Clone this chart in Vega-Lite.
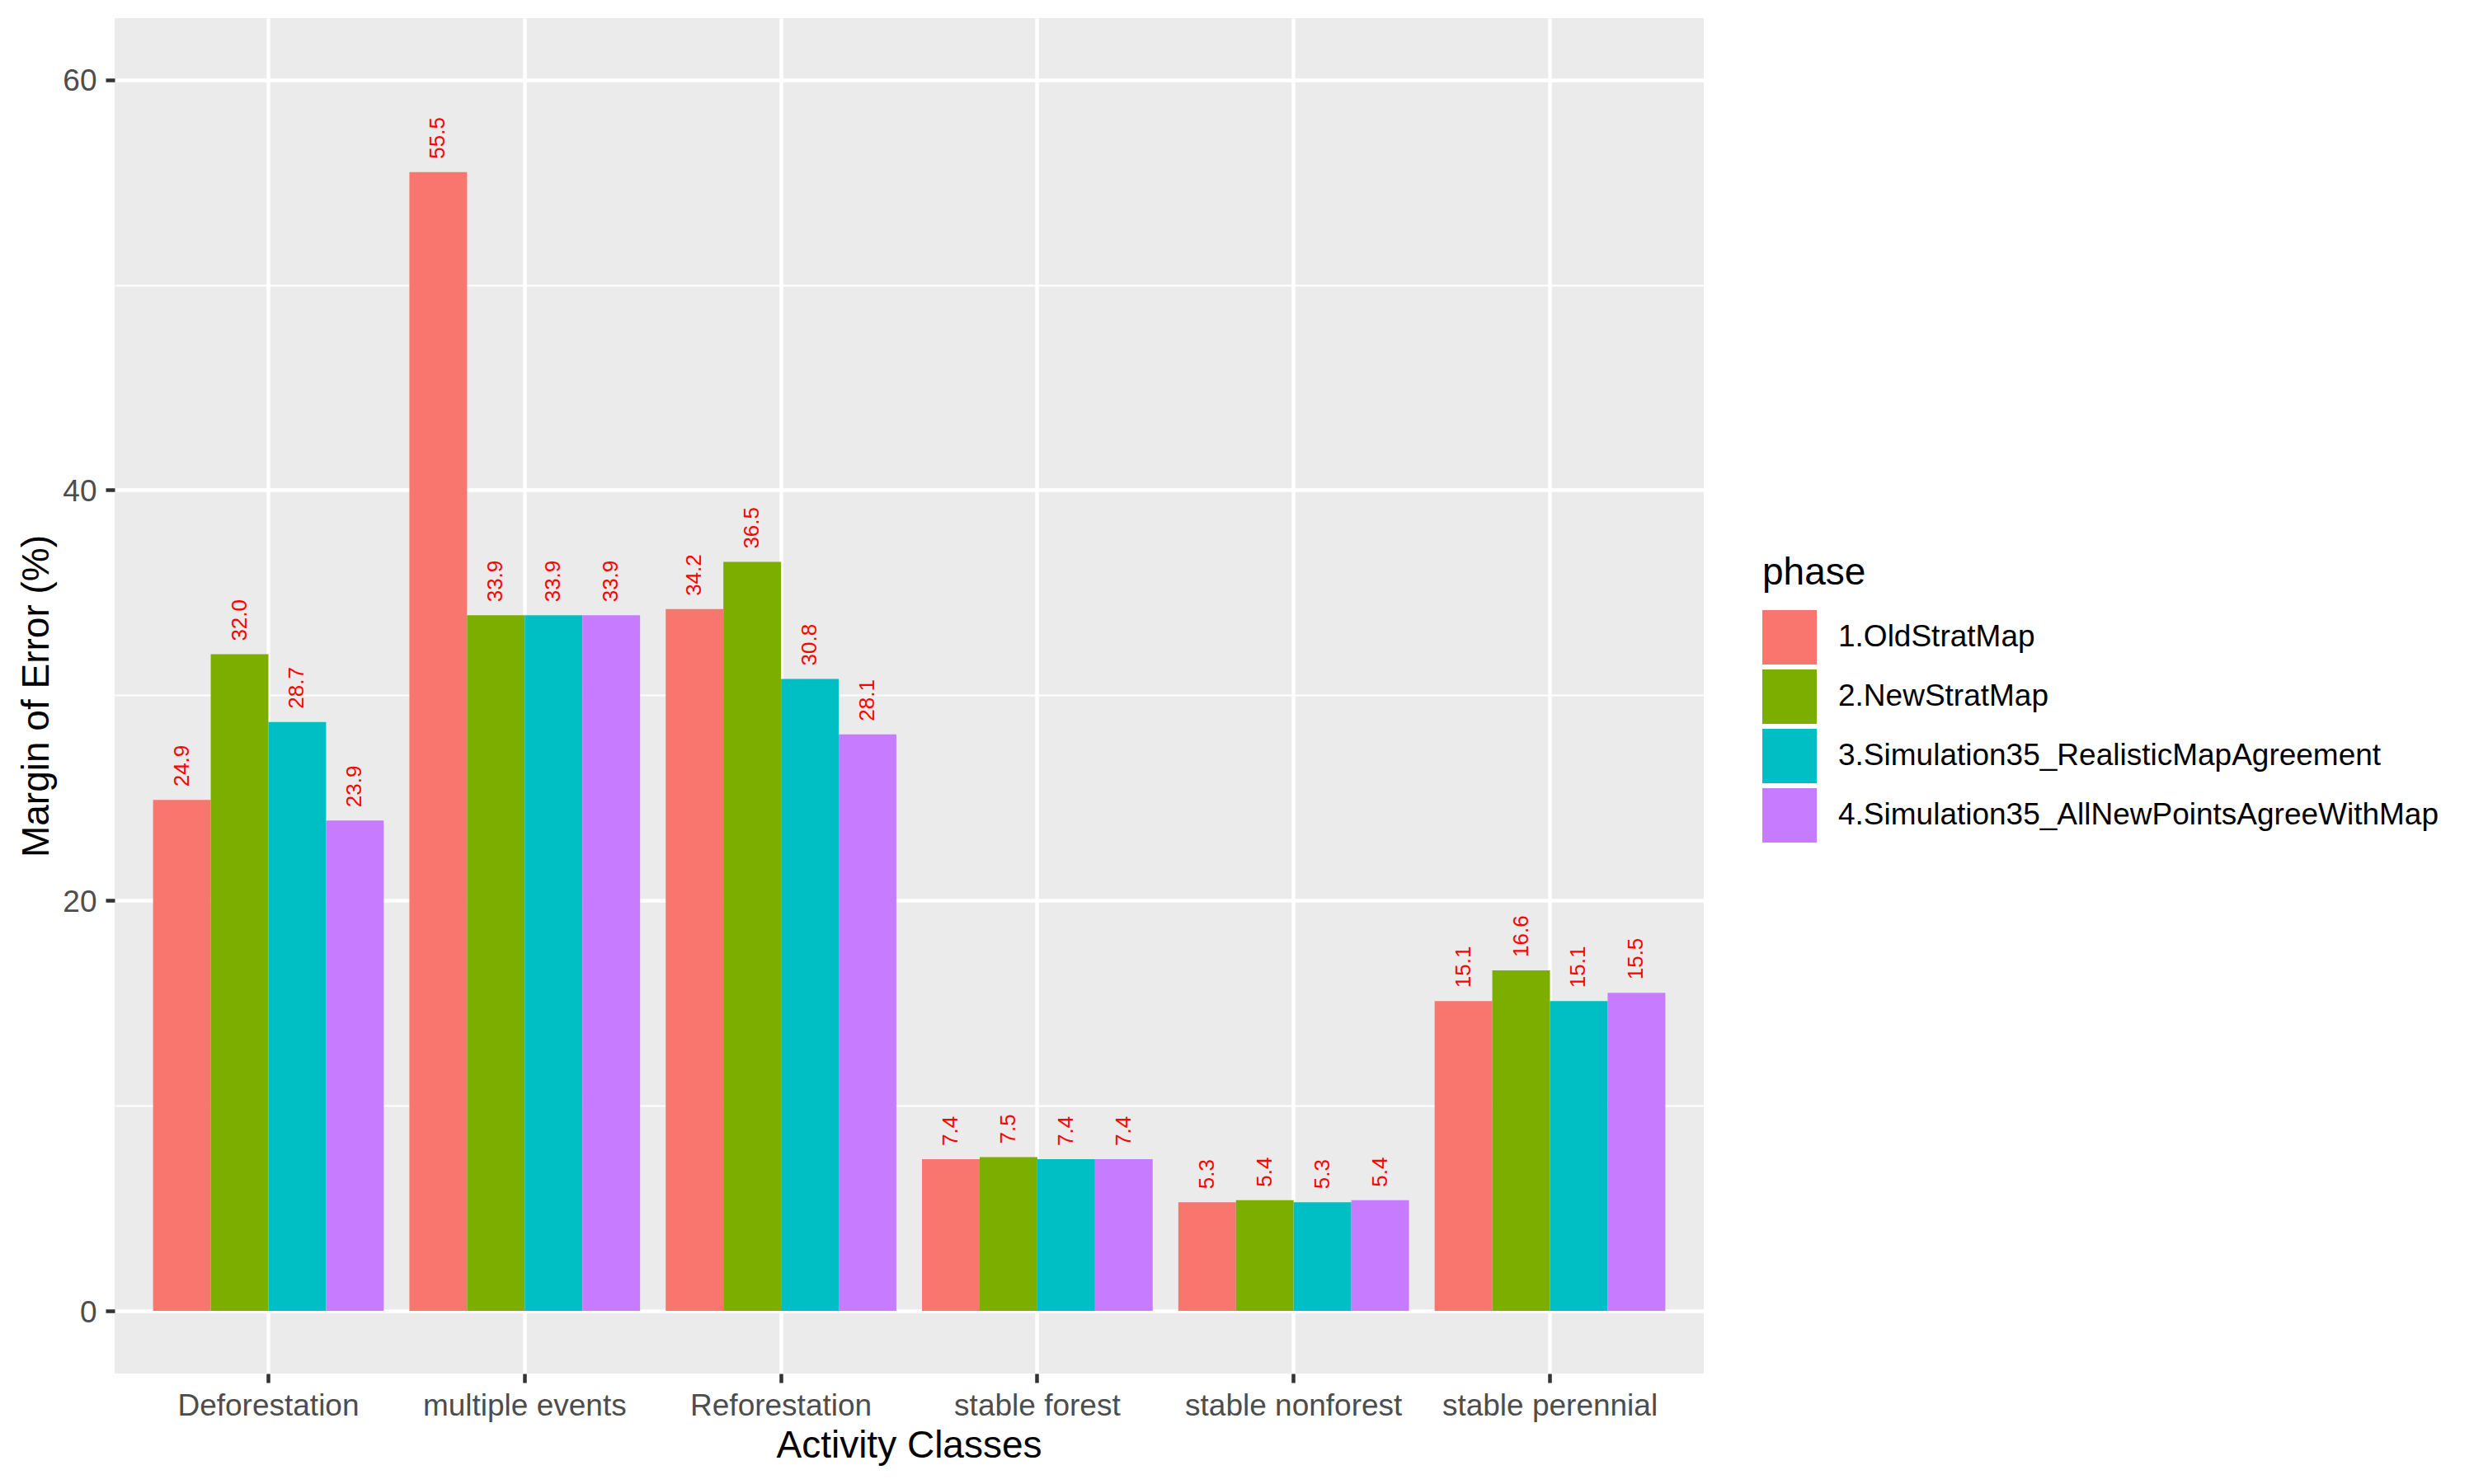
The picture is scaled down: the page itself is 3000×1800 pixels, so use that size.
{
  "$schema": "https://vega.github.io/schema/vega-lite/v6.json",
  "width": 1927,
  "height": 1644,
  "autosize": {"type": "none"},
  "padding": {"left": 139, "top": 22, "right": 934, "bottom": 134},
  "background": "white",
  "config": {
    "font": "Liberation Sans",
    "view": {"fill": "#EBEBEB", "stroke": null}
  },
  "data": {
    "values": [
      {"cls": "Deforestation", "phase": "1.OldStratMap", "moe": 24.9},
      {"cls": "Deforestation", "phase": "2.NewStratMap", "moe": 32.0},
      {"cls": "Deforestation", "phase": "3.Simulation35_RealisticMapAgreement", "moe": 28.7},
      {"cls": "Deforestation", "phase": "4.Simulation35_AllNewPointsAgreeWithMap", "moe": 23.9},
      {"cls": "multiple events", "phase": "1.OldStratMap", "moe": 55.5},
      {"cls": "multiple events", "phase": "2.NewStratMap", "moe": 33.9},
      {"cls": "multiple events", "phase": "3.Simulation35_RealisticMapAgreement", "moe": 33.9},
      {"cls": "multiple events", "phase": "4.Simulation35_AllNewPointsAgreeWithMap", "moe": 33.9},
      {"cls": "Reforestation", "phase": "1.OldStratMap", "moe": 34.2},
      {"cls": "Reforestation", "phase": "2.NewStratMap", "moe": 36.5},
      {"cls": "Reforestation", "phase": "3.Simulation35_RealisticMapAgreement", "moe": 30.8},
      {"cls": "Reforestation", "phase": "4.Simulation35_AllNewPointsAgreeWithMap", "moe": 28.1},
      {"cls": "stable forest", "phase": "1.OldStratMap", "moe": 7.4},
      {"cls": "stable forest", "phase": "2.NewStratMap", "moe": 7.5},
      {"cls": "stable forest", "phase": "3.Simulation35_RealisticMapAgreement", "moe": 7.4},
      {"cls": "stable forest", "phase": "4.Simulation35_AllNewPointsAgreeWithMap", "moe": 7.4},
      {"cls": "stable nonforest", "phase": "1.OldStratMap", "moe": 5.3},
      {"cls": "stable nonforest", "phase": "2.NewStratMap", "moe": 5.4},
      {"cls": "stable nonforest", "phase": "3.Simulation35_RealisticMapAgreement", "moe": 5.3},
      {"cls": "stable nonforest", "phase": "4.Simulation35_AllNewPointsAgreeWithMap", "moe": 5.4},
      {"cls": "stable perennial", "phase": "1.OldStratMap", "moe": 15.1},
      {"cls": "stable perennial", "phase": "2.NewStratMap", "moe": 16.6},
      {"cls": "stable perennial", "phase": "3.Simulation35_RealisticMapAgreement", "moe": 15.1},
      {"cls": "stable perennial", "phase": "4.Simulation35_AllNewPointsAgreeWithMap", "moe": 15.5}
    ]
  },
  "encoding": {
    "x": {
      "field": "cls",
      "type": "nominal",
      "sort": ["Deforestation", "multiple events", "Reforestation", "stable forest", "stable nonforest", "stable perennial"],
      "scale": {"paddingInner": 0.1, "paddingOuter": 0.15},
      "axis": {
        "title": "Activity Classes",
        "titleFontSize": 46,
        "titleFontWeight": "normal",
        "titleColor": "black",
        "titleX": 963,
        "titleY": 101,
        "titleBaseline": "alphabetic",
        "titleAlign": "center",
        "labelAngle": 0,
        "labelFontSize": 37,
        "labelColor": "#4D4D4D",
        "labelPadding": 10,
        "labelLimit": 1000,
        "domain": false,
        "bandPosition": 0.5,
        "ticks": true,
        "tickColor": "#333333",
        "tickWidth": 4.5,
        "tickSize": 11,
        "grid": true,
        "gridColor": "white",
        "gridWidth": 4.5
      }
    },
    "xOffset": {
      "field": "phase",
      "type": "nominal",
      "scale": {"paddingInner": 0, "paddingOuter": 0}
    },
    "y": {
      "field": "moe",
      "type": "quantitative",
      "scale": {"domain": [-3.05, 63.0], "nice": false, "zero": false},
      "axis": {
        "title": "Margin of Error (%)",
        "titleFontSize": 46,
        "titleFontWeight": "normal",
        "titleColor": "black",
        "titleAngle": 270,
        "titleX": -81,
        "titleY": 822,
        "titleBaseline": "alphabetic",
        "titleAlign": "center",
        "values": [0, 10, 20, 30, 40, 50, 60],
        "labelExpr": "datum.value % 20 === 0 ? datum.label : ''",
        "labelFontSize": 37,
        "labelColor": "#4D4D4D",
        "labelPadding": 11,
        "labelOffset": 2,
        "domain": false,
        "tickColor": "#333333",
        "tickWidth": 4.5,
        "tickSize": 11,
        "tickOpacity": {"condition": {"test": "datum.value % 20 === 0", "value": 1}, "value": 0},
        "grid": true,
        "gridColor": "white",
        "gridWidth": {"condition": {"test": "datum.value % 20 === 0", "value": 4.5}, "value": 2.2}
      }
    }
  },
  "layer": [
    {
      "mark": {"type": "bar"},
      "encoding": {
        "y2": {"datum": 0},
        "color": {
          "field": "phase",
          "type": "nominal",
          "scale": {
            "domain": ["1.OldStratMap", "2.NewStratMap", "3.Simulation35_RealisticMapAgreement", "4.Simulation35_AllNewPointsAgreeWithMap"],
            "range": ["#F8766D", "#7CAE00", "#00BFC4", "#C77CFF"]
          },
          "legend": {
            "orient": "none",
            "legendX": 1998,
            "legendY": 651,
            "title": "phase",
            "titleFontSize": 46,
            "titleFontWeight": "normal",
            "titleColor": "black",
            "titleBaseline": "top",
            "titlePadding": 21,
            "symbolType": "square",
            "symbolSize": 4356,
            "symbolStrokeWidth": 0,
            "symbolOpacity": 1,
            "labelFontSize": 37,
            "labelColor": "black",
            "labelOffset": 26,
            "labelLimit": 1000,
            "rowPadding": 6
          }
        }
      }
    },
    {
      "mark": {"type": "text", "angle": 270, "align": "left", "baseline": "middle", "dx": 16, "fontSize": 26, "color": "#FF0000"},
      "encoding": {
        "text": {"field": "moe", "type": "quantitative", "format": ".1f"}
      }
    }
  ]
}
